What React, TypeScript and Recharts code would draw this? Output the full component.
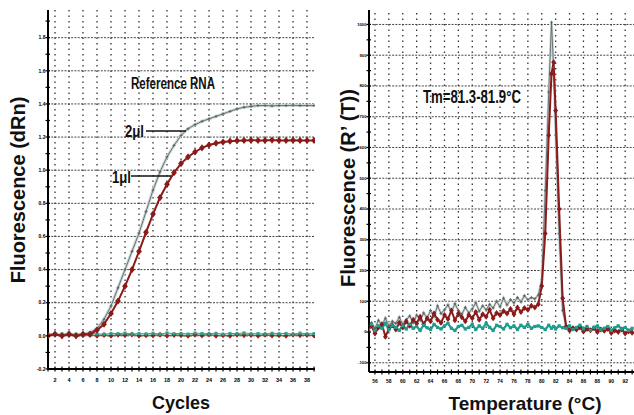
import React from 'react'
import { LineChart, Line, XAxis, YAxis, ReferenceLine } from 'recharts'

const FONT = "'Liberation Sans', Arial, sans-serif"

// ---- amplification plot (left) ----
const cycles = [1, 2, 3, 4, 5, 6, 7, 8, 9, 10, 11, 12, 13, 14, 15, 16, 17, 18, 19, 20, 21, 22, 23, 24, 25, 26, 27, 28, 29, 30, 31, 32, 33, 34, 35, 36, 37, 38, 39]
const ref2ul = [0.0, 0.005, 0.01, 0.0, 0.01, 0.01, 0.02, 0.045, 0.1, 0.18, 0.29, 0.4, 0.51, 0.62, 0.75, 0.88, 0.99, 1.08, 1.15, 1.21, 1.25, 1.275, 1.295, 1.31, 1.325, 1.34, 1.355, 1.37, 1.38, 1.385, 1.39, 1.39, 1.388, 1.39, 1.39, 1.392, 1.39, 1.39, 1.39]
const ref1ul = [0.0, 0.01, 0.0, 0.01, 0.0, 0.01, 0.01, 0.035, 0.07, 0.135, 0.21, 0.3, 0.4, 0.51, 0.625, 0.735, 0.835, 0.915, 0.985, 1.04, 1.08, 1.11, 1.135, 1.152, 1.163, 1.17, 1.175, 1.178, 1.18, 1.181, 1.18, 1.18, 1.182, 1.18, 1.18, 1.181, 1.18, 1.18, 1.18]
const ntcTeal = [0.01, 0.015, 0.012, 0.018, 0.01, 0.014, 0.016, 0.012, 0.01, 0.015, 0.013, 0.017, 0.011, 0.014, 0.012, 0.016, 0.01, 0.018, 0.013, 0.015, 0.011, 0.017, 0.014, 0.012, 0.016, 0.01, 0.015, 0.013, 0.018, 0.012, 0.014, 0.011, 0.016, 0.013, 0.015, 0.01, 0.017, 0.012, 0.014]
const ntcRed = [0.0, 0.008, 0.002, 0.006, 0.0, 0.004, 0.007, 0.001, 0.005, 0.0, 0.006, 0.003, 0.008, 0.0, 0.004, 0.002, 0.007, 0.001, 0.005, 0.003, 0.0, 0.006, 0.002, 0.008, 0.001, 0.004, 0.0, 0.007, 0.003, 0.005, 0.001, 0.006, 0.002, 0.004, 0.0, 0.007, 0.003, 0.005, 0.002]

const cycleLabels = [2, 4, 6, 8, 10, 12, 14, 16, 18, 20, 22, 24, 26, 28, 30, 32, 34, 36, 38]
const dRnLabels = [-0.2, 0, 0.2, 0.4, 0.6, 0.8, 1.0, 1.2, 1.4, 1.6, 1.8]
const dRnTicks = [-0.2, -0.1, 0, 0.1, 0.2, 0.3, 0.4, 0.5, 0.6, 0.7, 0.8, 0.9, 1.0, 1.1, 1.2, 1.3, 1.4, 1.5, 1.6, 1.7, 1.8, 1.9]

// ---- melt curve (right) ----
const temps = [
  55, 55.5, 56, 56.5, 57, 57.5, 58, 58.5, 59, 59.5, 60, 60.5, 61, 61.5, 62, 62.5, 63, 63.5, 64, 64.5,
  65, 65.5, 66, 66.5, 67, 67.5, 68, 68.5, 69, 69.5, 70, 70.5, 71, 71.5, 72, 72.5, 73, 73.5, 74, 74.5,
  75, 75.5, 76, 76.5, 77, 77.5, 78, 78.5, 79, 79.5,
  80, 80.5, 81, 81.4, 81.7, 82, 82.5, 83,
  83.5, 84, 84.5, 85, 85.5, 86, 86.5, 87, 87.5, 88, 88.5, 89, 89.5, 90, 90.5, 91, 91.5, 92, 92.5, 93,
]
const melt2ul = [
  18, 30, 12, 38, 22, 45, 20, 35, 28, 48, 25, 40, 52, 30, 55, 38, 62, 45, 70, 50,
  85, 60, 72, 88, 65, 92, 70, 58, 80, 62, 75, 95, 68, 85, 72, 90, 78, 100, 82, 110,
  88, 105, 95, 112, 98, 118, 105, 112, 108, 120,
  170, 460, 780, 1007, 860, 640, 320, 70,
  20, 8, 15, 5, 18, 10, 12, 3, 15, 8, 10, 2, 12, 5, 8, 0, 10, -2, 6, 2,
]
const melt1ul = [
  5, 20, -5, 15, 25, -15, 10, 22, 8, 30, 15, 35, 20, 40, 28, 50, 25, 45, 35, 60,
  40, 30, 55, 42, 70, 38, 60, 48, 35, 55, 45, 65, 40, 58, 50, 72, 45, 62, 55, 68,
  60, 75, 58, 80, 65, 78, 72, 85, 80, 90,
  150, 320, 640, 840, 877, 720, 400, 110,
  18, 5, 12, 8, 15, 2, 10, 6, 12, 0, 8, 4, 10, -3, 5, 0, 8, -5, 2, -2,
]
const meltNtc = [
  10, 25, 5, 20, 12, 28, 8, 22, 15, 5, 20, 10, 25, 12, 18, 5, 22, 14, 8, 25,
  15, 10, 20, 28, 12, 5, 18, 22, 10, 15, 25, 8, 20, 12, 28, 15, 5, 22, 18, 10,
  25, 14, 20, 8, 22, 15, 25, 12, 18, 20,
  15, 8, 22, 12, 18, 10, 20, 14,
  12, 20, 8, 15, 22, 10, 18, 5, 15, 20, 8, 12, 18, 5, 14, 20, 10, 15, 5, 12,
]

const tempLabels = [56, 58, 60, 62, 64, 66, 68, 70, 72, 74, 76, 78, 80, 82, 84, 86, 88, 90, 92]
const tempTicks = [56, 57, 58, 59, 60, 61, 62, 63, 64, 65, 66, 67, 68, 69, 70, 71, 72, 73, 74, 75, 76, 77, 78, 79, 80, 81, 82, 83, 84, 85, 86, 87, 88, 89, 90, 91, 92, 93]
const rtLabels = [-100, 0, 100, 200, 300, 400, 500, 600, 700, 800, 900, 1000]
const rtTicks = [-100, -50, 0, 50, 100, 150, 200, 250, 300, 350, 400, 450, 500, 550, 600, 650, 700, 750, 800, 850, 900, 950, 1000]

const leftData = cycles.map((c, i) => ({
  cycle: c,
  ref2ul: ref2ul[i],
  ref1ul: ref1ul[i],
  ntcTeal: ntcTeal[i],
  ntcRed: ntcRed[i],
}))

const rightData = temps.map((t, i) => ({
  temp: t,
  melt2ul: melt2ul[i],
  melt1ul: melt1ul[i],
  meltNtc: meltNtc[i],
}))

const isIn = (list: number[], v: number) => list.some((l) => Math.abs(l - v) < 1e-6)

const XTick = (props: any) => {
  const { x, y, payload, labels, fs, dy } = props
  const v = payload.value
  return (
    <g>
      <line x1={x} x2={x} y1={y - 2.5} y2={y + 2.5} stroke="#000" strokeWidth={1.2} />
      {isIn(labels, v) && (
        <text x={x} y={y + dy} textAnchor="middle" fontSize={fs} fontWeight="bold" fill="#000" fontFamily={FONT}>
          {v}
        </text>
      )}
    </g>
  )
}

const YTick = (props: any) => {
  const { x, y, payload, labels, fs, digits } = props
  const v = payload.value
  return (
    <g>
      <line x1={x - 2.5} x2={x + 2} y1={y} y2={y} stroke="#000" strokeWidth={1.2} />
      {isIn(labels, v) && (
        <text x={x - 2.5} y={y} dy="0.35em" textAnchor="end" fontSize={fs} fontWeight="bold" fill="#000" fontFamily={FONT}>
          {v.toFixed(digits)}
        </text>
      )}
    </g>
  )
}

const Diamond = (props: any) => {
  const { cx, cy, index, size, fill } = props
  if (cx == null || cy == null) return <g key={index} />
  const s = size || 2.5
  return <path key={index} d={`M${cx},${cy - s}L${cx + s * 0.8},${cy}L${cx},${cy + s}L${cx - s * 0.8},${cy}Z`} fill={fill} />
}

const Plus = (props: any) => {
  const { cx, cy, index } = props
  if (cx == null || cy == null) return <g key={index} />
  return <path key={index} d={`M${cx - 1.5},${cy}H${cx + 1.5}M${cx},${cy - 1.5}V${cy + 1.5}`} stroke="#4f5a5a" strokeWidth={0.8} />
}

const Square = (props: any) => {
  const { cx, cy, index, fill, size } = props
  if (cx == null || cy == null) return <g key={index} />
  const s = size || 1.5
  return <rect key={index} x={cx - s} y={cy - s} width={s * 2} height={s * 2} fill={fill} />
}

const hGrid = { stroke: '#444', strokeDasharray: '2 1.3', strokeWidth: 1 }
const vGrid = { stroke: '#333', strokeDasharray: '1.5 4', strokeWidth: 1.3 }

const narrow = (s: string, x: number, y: number, size: number, len: number) => (
  <text
    x={x}
    y={y}
    dominantBaseline="central"
    fontSize={size}
    fontWeight="bold"
    fontFamily={FONT}
    fill="#111"
    textLength={len}
    lengthAdjust="spacingAndGlyphs"
  >
    {s}
  </text>
)

export default function App() {
  return (
    <div style={{ position: 'absolute', left: 0, top: 0, width: 634, height: 415, background: '#fff', overflow: 'hidden' }}>
      <div style={{ position: 'absolute', left: 0, top: 0 }}>
        <LineChart width={320} height={415} data={leftData} margin={{ top: 10, right: 5, left: 0, bottom: 0 }}>
          <XAxis
            dataKey="cycle"
            type="number"
            domain={[1, 39.14]}
            allowDataOverflow
            ticks={cycles}
            interval={0}
            tickSize={0}
            tickMargin={0}
            tickLine={false}
            height={46}
            axisLine={{ stroke: '#000', strokeWidth: 2 }}
            tick={<XTick labels={cycleLabels} fs={5.5} dy={13} />}
          />
          <YAxis
            type="number"
            domain={[-0.2, 1.967]}
            allowDataOverflow
            ticks={dRnTicks}
            interval={0}
            tickSize={0}
            tickMargin={0}
            tickLine={false}
            width={48}
            axisLine={{ stroke: '#000', strokeWidth: 2 }}
            tick={<YTick labels={dRnLabels} fs={5} digits={1} />}
          />
          {cycleLabels.map((c) => (
            <ReferenceLine key={`vx${c}`} x={c} {...vGrid} />
          ))}
          {dRnLabels.filter((v) => v > -0.2).map((v) => (
            <ReferenceLine key={`hy${v}`} y={v} {...hGrid} />
          ))}
          <Line key="ntcRed" dataKey="ntcRed" stroke="#3d8a3a" strokeWidth={1.6} dot={<Diamond fill="#9b1c1c" size={3} />} isAnimationActive={false} />
          <Line key="ntcTeal" dataKey="ntcTeal" stroke="#23a396" strokeWidth={1} dot={<Square fill="#23a396" size={1.5} />} isAnimationActive={false} />
          <Line key="ref2halo" dataKey="ref2ul" stroke="#cdd6d6" strokeWidth={3} dot={false} isAnimationActive={false} />
          <Line key="ref2" dataKey="ref2ul" stroke="#5e6a6a" strokeWidth={0.9} dot={<Plus />} isAnimationActive={false} />
          <Line key="ref1" dataKey="ref1ul" stroke="#8b1a1a" strokeWidth={2} dot={<Diamond fill="#8b1a1a" size={3.6} />} isAnimationActive={false} />
        </LineChart>
      </div>

      <div style={{ position: 'absolute', left: 330, top: 0 }}>
        <LineChart width={304} height={415} data={rightData} margin={{ top: 10, right: 0, left: 0, bottom: 0 }}>
          <XAxis
            dataKey="temp"
            type="number"
            domain={[55.14, 93.27]}
            allowDataOverflow
            ticks={tempTicks}
            interval={0}
            tickSize={0}
            tickMargin={0}
            tickLine={false}
            height={43}
            axisLine={{ stroke: '#000', strokeWidth: 2 }}
            tick={<XTick labels={tempLabels} fs={5} dy={11} />}
          />
          <YAxis
            type="number"
            domain={[-130, 1047]}
            allowDataOverflow
            ticks={rtTicks}
            interval={0}
            tickSize={0}
            tickMargin={0}
            tickLine={false}
            width={39}
            axisLine={{ stroke: '#000', strokeWidth: 2 }}
            tick={<YTick labels={rtLabels} fs={4.2} digits={0} />}
          />
          {tempLabels.map((t) => (
            <ReferenceLine key={`vt${t}`} x={t} {...vGrid} />
          ))}
          {rtLabels.filter((v) => v !== 0).map((v) => (
            <ReferenceLine key={`hr${v}`} y={v} {...hGrid} />
          ))}
          <Line key="m2halo" dataKey="melt2ul" stroke="#cdd6d6" strokeWidth={2.6} dot={false} isAnimationActive={false} />
          <Line key="m2" dataKey="melt2ul" stroke="#5e6a6a" strokeWidth={0.9} dot={<Plus />} isAnimationActive={false} />
          <Line key="m1" dataKey="melt1ul" stroke="#8b1a1a" strokeWidth={2} dot={<Diamond fill="#8b1a1a" size={3} />} isAnimationActive={false} />
          <Line key="mn" dataKey="meltNtc" stroke="#1f9c8e" strokeWidth={2.2} dot={<Square fill="#1f9c8e" size={1.6} />} isAnimationActive={false} />
        </LineChart>
      </div>

      <svg width={634} height={415} style={{ position: 'absolute', left: 0, top: 0, pointerEvents: 'none' }}>
        <text x={18} y={190} transform="rotate(-90 18 190)" textAnchor="middle" dominantBaseline="central" fontSize={20} fontWeight="bold" fontFamily={FONT} fill="#111">
          Fluorescence (dRn)
        </text>
        <text x={348} y={188} transform="rotate(-90 348 188)" textAnchor="middle" dominantBaseline="central" fontSize={20} fontWeight="bold" fontFamily={FONT} fill="#111">
          Fluorescence (R’ (T))
        </text>
        <text x={181} y={403} textAnchor="middle" dominantBaseline="central" fontSize={18} fontWeight="bold" fontFamily={FONT} fill="#111">
          Cycles
        </text>
        <text x={525} y={403} textAnchor="middle" dominantBaseline="central" fontSize={19} fontWeight="bold" fontFamily={FONT} fill="#111">
          Temperature (°C)
        </text>
        {narrow('Reference RNA', 131, 83, 16, 84)}
        {narrow('2μl', 125, 131, 16, 19)}
        <line x1={146} x2={186} y1={131} y2={131} stroke="#111" strokeWidth={1.5} />
        {narrow('1μl', 112, 177, 16, 19)}
        <line x1={131} x2={171} y1={176} y2={176} stroke="#111" strokeWidth={1.5} />
        {narrow('Tm=81.3-81.9°C', 423, 97, 18, 98)}
      </svg>
    </div>
  )
}
